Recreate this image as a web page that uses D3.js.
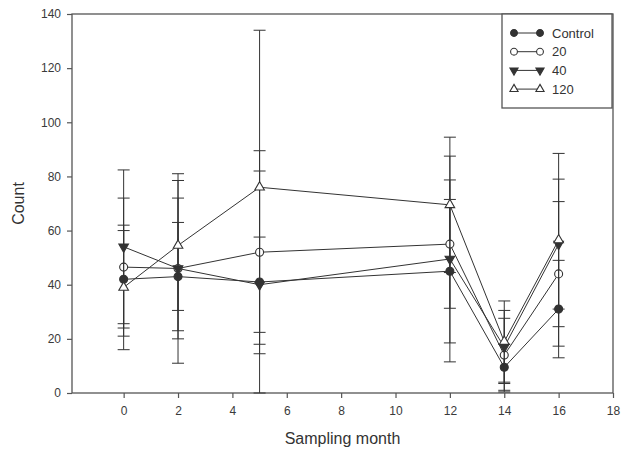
<!DOCTYPE html>
<html>
<head>
<meta charset="utf-8">
<script src="https://cdn.jsdelivr.net/npm/d3@7"></script>
<style>
  body { margin: 0; background: #fff; }
  svg { display: block; font-family: "Liberation Sans", Arial, sans-serif; }
</style>
</head>
<body>
<div id="chart"></div>
<script>
// data
const months = [0, 2, 5, 12, 14, 16];
const control = [42, 43, 41, 45, 9.5, 31];
const controlErr = [18, 20, 41, 26.5, 8.5, 18];
const t20 = [46.5, 46, 52, 55, 14, 44];
const t20Err = [25.5, 35, 37.5, 23.7, 13.6, 26.7];
const t40 = [54, 46, 40, 49.5, 17, 55];
const t40Err = [28.4, 26, 17.6, 38, 13.5, 24];
const t120 = [39, 54.5, 76, 69.5, 19, 56.5];
const t120Err = [23, 24, 58, 25, 15, 32];
const seriesNames = ["Control", "20", "40", "120"];
const xTicks = [0, 2, 4, 6, 8, 10, 12, 14, 16, 18];
const yTicks = [0, 20, 40, 60, 80, 100, 120, 140];

const W = 621, H = 453;
const margin = { top: 14, right: 8, bottom: 60, left: 72 };
const width = W - margin.left - margin.right;
const height = H - margin.top - margin.bottom;

const svg = d3.select("#chart").append("svg")
  .attr("width", W).attr("height", H);
const g = svg.append("g")
  .attr("transform", "translate(" + margin.left + "," + margin.top + ")");

const x = d3.scaleLinear().domain([-1.9, 18]).range([0, width]);
const y = d3.scaleLinear().domain([0, 140]).range([height, 0]);

const ink = "#333";

// frame
g.append("rect").attr("x", 0).attr("y", 0).attr("width", width).attr("height", height)
  .attr("fill", "none").attr("stroke", "#555").attr("stroke-width", 1.3);

// axes
const xAxis = g.append("g").attr("transform", "translate(0," + height + ")")
  .call(d3.axisBottom(x).tickValues(xTicks).tickSize(5).tickPadding(8));
const yAxis = g.append("g")
  .call(d3.axisLeft(y).tickValues(yTicks).tickSize(5).tickPadding(6));
[xAxis, yAxis].forEach(a => {
  a.select(".domain").remove();
  a.selectAll("line").attr("stroke", "#555").attr("stroke-width", 1.2);
  a.selectAll("text").attr("fill", "#3a3a3a").attr("font-size", "12px");
});

svg.append("text").attr("x", margin.left + width / 2).attr("y", 444)
  .attr("text-anchor", "middle").attr("font-size", "16px").attr("fill", "#333")
  .text("Sampling month");
svg.append("text").attr("transform", "translate(24," + (margin.top + height / 2) + ") rotate(-90)")
  .attr("text-anchor", "middle").attr("font-size", "16px").attr("fill", "#333")
  .text("Count");

const series = [
  { name: seriesNames[0], vals: control, err: controlErr, shape: "circle", fill: ink },
  { name: seriesNames[1], vals: t20, err: t20Err, shape: "circle", fill: "#fff" },
  { name: seriesNames[2], vals: t40, err: t40Err, shape: "down", fill: ink },
  { name: seriesNames[3], vals: t120, err: t120Err, shape: "up", fill: "#fff" }
];

function marker(sel, shape, fill, k) {
  if (shape === "circle") {
    sel.append("circle").attr("r", 4 * k)
      .attr("fill", fill).attr("stroke", ink).attr("stroke-width", 1.1);
  } else {
    sel.append("path")
      .attr("d", d3.symbol().type(d3.symbolTriangle).size(40 * k * k)())
      .attr("transform", shape === "down" ? "rotate(180)" : null)
      .attr("fill", fill).attr("stroke", ink).attr("stroke-width", 1.1);
  }
}

const line = d3.line().x(d => x(d.m)).y(d => y(d.v));

series.forEach(s => {
  const pts = months.map((m, i) => ({ m: m, v: s.vals[i], e: s.err[i] }));
  const sg = g.append("g");
  sg.append("path").datum(pts).attr("d", line)
    .attr("fill", "none").attr("stroke", ink).attr("stroke-width", 1);
  const eb = sg.selectAll(".eb").data(pts).enter().append("g");
  eb.append("line").attr("x1", d => x(d.m)).attr("x2", d => x(d.m))
    .attr("y1", d => y(d.v + d.e)).attr("y2", d => y(Math.max(0, d.v - d.e)))
    .attr("stroke", ink).attr("stroke-width", 1);
  eb.append("line").attr("x1", d => x(d.m) - 6).attr("x2", d => x(d.m) + 6)
    .attr("y1", d => y(d.v + d.e)).attr("y2", d => y(d.v + d.e))
    .attr("stroke", ink).attr("stroke-width", 1);
  eb.append("line").attr("x1", d => x(d.m) - 6).attr("x2", d => x(d.m) + 6)
    .attr("y1", d => y(Math.max(0, d.v - d.e))).attr("y2", d => y(Math.max(0, d.v - d.e)))
    .attr("stroke", ink).attr("stroke-width", 1);
  sg.selectAll(".mk").data(pts).enter().append("g")
    .attr("transform", d => "translate(" + x(d.m) + "," + y(d.v) + ")")
    .each(function () { marker(d3.select(this), s.shape, s.fill, 1); });
});

// legend
const lg = svg.append("g").attr("transform", "translate(502,14)");
lg.append("rect").attr("width", 110).attr("height", 94)
  .attr("fill", "#fff").attr("stroke", "#555").attr("stroke-width", 1.3);
series.forEach((s, i) => {
  const row = lg.append("g").attr("transform", "translate(0," + (19 + i * 18.7) + ")");
  row.append("line").attr("x1", 12).attr("x2", 38).attr("stroke", ink).attr("stroke-width", 1);
  [12, 38].forEach(px => {
    const mg = row.append("g").attr("transform", "translate(" + px + ",0)");
    marker(mg, s.shape, s.fill, 0.85);
  });
  row.append("text").attr("x", 50).attr("y", 4.5).attr("font-size", "13px").attr("fill", "#333")
    .text(s.name);
});
</script>
</body>
</html>
